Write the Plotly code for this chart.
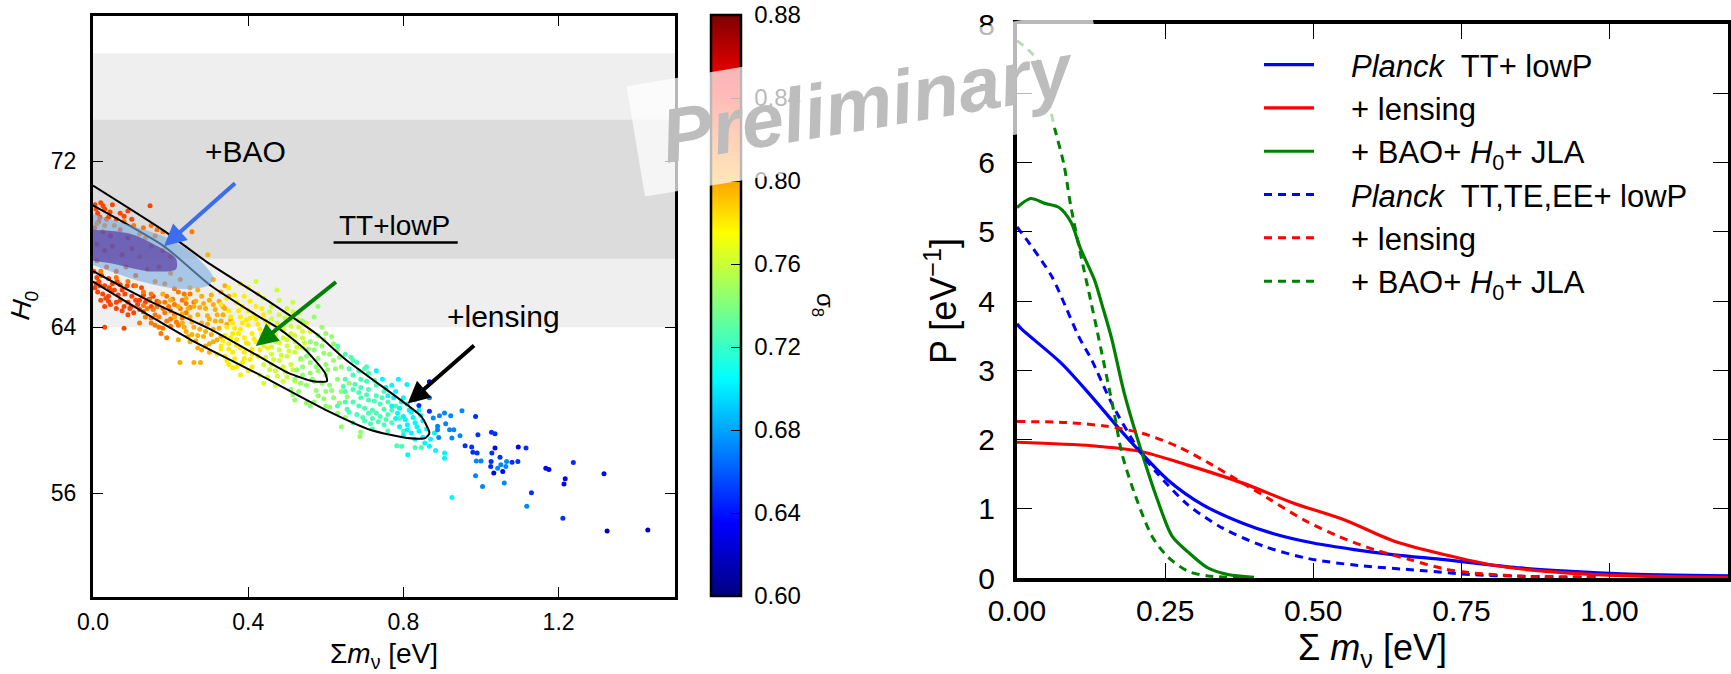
import plotly.graph_objects as go

W, H = 1731, 674
FONT = "Liberation Sans"

# --- left panel: (sum m_nu, H0) samples grouped by sigma_8 colour
s8_083 = [(.005,69.9),(.012,69.5),(.02,70.0),(.03,69.7),(.04,69.3),(.05,69.9),(.015,69.1),(.035,69.2),(.07,69.5),(.09,69.6),
 (.147,69.85),(.005,65.9),(.015,66.2),(.025,65.6),(.02,65.3),(.04,65.5),(.055,65.8),(.07,65.3),(.09,65.2),(.01,66.4),(.03,66.0),
 (.05,66.1),(.075,65.8),(.03,65.0),(.045,65.1),(.06,64.9),(.08,65.0),(.105,64.7),(.12,64.85),(.03,64.0),(.08,63.95),(.1,65.5),
 (.12,65.3),(.09,64.6),(.135,65.2),(.15,65.0),(.008,69.7),(.018,69.3),(.026,69.85),(.044,69.55),(.06,69.2),(.08,69.35),(.1,69.2),
 (.004,68.8),(.025,68.6),(.045,68.4),(.07,68.7),(.09,68.3),(.01,68.0),(.03,67.7),(.05,67.9),(.075,67.5),(.1,67.8),(.01,67.2),
 (.035,66.9),(.06,66.7),(.085,66.9),(.11,66.5),(.012,65.7),(.033,65.4),(.048,65.75),(.065,65.55),(.082,65.6),(.098,65.0),(.115,65.1),
 (.13,65.55),(.145,65.35),(.04,65.25),(.06,65.2),(.075,64.8),(.095,64.9),(.11,65.3),(.13,64.75),(.018,66.0),(.042,65.9),(.062,66.2),
 (.088,66.0),(.105,66.0),(.125,65.9),(.002,66.7),(.008,66.1),(.022,66.5),(.04,66.35),(.07,66.05),(.155,65.5),(.165,65.25)]
s8_081 = [(.01,69.0),(.03,68.9),(.055,68.9),(.08,69.1),(.105,68.9),(.13,68.8),(.15,68.9),(.16,68.4),(.18,68.6),(.12,68.5),
 (.02,66.7),(.06,66.4),(.09,66.2),(.11,66.0),(.13,65.7),(.15,65.6),(.17,65.2),(.19,65.5),(.14,64.9),(.16,64.6),(.18,64.9),
 (.2,64.8),(.12,64.2),(.15,64.2),(.17,64.0),(.2,64.4),(.22,64.1),(.24,64.7),(.175,63.7),(.21,65.1),(.23,65.3),(.19,63.5),
 (.25,65.6),(.22,65.7),(.255,68.6),(.2,68.2),(.135,68.3),(.165,68.7),(.15,67.9),(.18,67.7),(.2,67.4),(.12,67.4),(.14,66.8),(.17,66.9),
 (.2,66.6),(.225,66.3),(.16,66.2),(.185,66.1),(.21,65.85),(.145,65.3),(.165,65.0),(.185,65.2),(.205,65.35),(.225,64.9),(.24,65.15),
 (.155,64.85),(.17,64.5),(.19,64.3),(.21,64.6),(.23,64.45),(.25,64.95),(.135,64.5),(.16,64.1),(.18,63.95),(.2,64.05),(.13,65.05),
 (.15,64.45),(.185,64.7),(.195,65.0),(.215,64.25),(.235,65.6),(.26,65.2)]
s8_079 = [(.18,65.6),(.2,65.3),(.22,65.0),(.24,65.4),(.26,65.0),(.28,65.5),(.3,65.3),(.21,64.5),(.23,64.2),(.25,64.5),(.27,64.6),
 (.29,64.9),(.31,65.1),(.24,63.8),(.26,64.0),(.28,64.2),(.3,64.4),(.32,64.6),(.34,64.9),(.22,63.4),(.25,63.3),(.27,63.6),(.29,63.8),
 (.31,63.9),(.33,64.3),(.224,62.3),(.26,62.3),(.277,62.3),(.28,62.9),(.3,63.2),(.32,63.4),(.35,65.5),(.33,65.7),(.296,67.5),
 (.31,66.3),(.34,66.0),(.27,65.8),(.25,65.9),(.23,64.65),(.245,64.9),(.265,65.25),(.285,65.15),(.305,65.55),(.325,65.25),(.255,64.25),
 (.275,64.95),(.295,64.55),(.315,64.85),(.335,65.0),(.235,64.0),(.255,63.65),(.275,63.9),(.295,64.15),(.315,64.3),(.335,64.6),(.355,64.35),
 (.245,63.55),(.265,63.35),(.285,63.55),(.305,63.65),(.325,63.95),(.345,64.15),(.29,63.1),(.31,63.3),(.33,63.55),(.27,63.0),(.3,62.8)]
s8_077 = [(.33,65.1),(.35,64.8),(.37,65.2),(.39,65.5),(.36,64.2),(.38,64.5),(.4,64.8),(.42,65.0),(.34,63.6),(.36,63.7),(.38,63.9),
 (.4,64.1),(.42,64.4),(.44,64.6),(.33,63.1),(.35,63.2),(.37,63.4),(.39,63.5),(.41,63.7),(.43,63.9),(.45,64.1),(.32,62.7),(.34,62.6),
 (.36,62.8),(.38,63.0),(.4,63.2),(.42,63.3),(.44,63.5),(.46,63.7),(.35,62.2),(.37,62.1),(.39,62.5),(.41,62.7),(.43,62.9),(.45,63.0),
 (.38,61.7),(.41,62.1),(.35,65.9),(.38,66.1),(.4,65.9),(.345,65.4),(.365,65.55),(.385,65.0),(.405,65.25),(.425,65.6),(.355,64.5),
 (.375,64.8),(.395,64.35),(.415,64.6),(.435,64.9),(.345,64.0),(.365,63.95),(.385,64.2),(.405,64.45),(.425,64.15),(.445,64.3),
 (.335,63.35),(.355,63.5),(.375,63.7),(.395,63.25),(.415,63.45),(.435,63.65),(.33,62.95),(.35,62.95),(.37,63.15),(.39,62.8),(.41,62.95),
 (.345,62.4),(.365,62.5),(.385,62.3),(.405,62.45),(.425,62.6),(.36,62.05),(.4,61.9)]
s8_075 = [(.44,65.4),(.46,65.0),(.48,65.3),(.46,64.4),(.48,64.6),(.5,64.9),(.47,63.9),(.49,64.1),(.51,64.4),(.53,64.7),(.47,63.3),
 (.49,63.5),(.51,63.7),(.53,64.0),(.55,64.2),(.46,62.7),(.48,62.9),(.5,63.1),(.52,63.3),(.54,63.5),(.56,63.8),(.44,62.2),(.46,62.2),
 (.48,62.4),(.5,62.6),(.52,62.8),(.54,63.0),(.43,61.7),(.45,61.6),(.47,61.9),(.49,62.1),(.51,62.2),(.44,61.3),(.47,61.2),(.5,61.6),
 (.474,65.8),(.515,65.2),(.42,66.2),(.455,64.75),(.475,64.2),(.495,64.45),(.515,64.75),(.45,63.55),(.47,63.65),(.49,63.85),(.51,64.05),
 (.53,64.35),(.44,63.1),(.46,63.05),(.48,63.25),(.5,63.4),(.52,63.6),(.54,63.8),(.445,62.55),(.465,62.45),(.485,62.65),(.505,62.85),
 (.525,63.05),(.545,63.25),(.455,61.95),(.475,61.65),(.495,61.85),(.515,61.95),(.535,62.45),(.49,61.4),(.52,61.4)]
s8_073 = [(.54,64.3),(.57,64.5),(.59,64.0),(.56,63.3),(.58,63.6),(.6,63.7),(.62,63.2),(.55,62.6),(.57,62.9),(.59,63.1),(.61,62.7),
 (.63,62.9),(.54,62.1),(.56,62.3),(.58,62.5),(.6,62.2),(.62,62.4),(.52,61.5),(.54,61.7),(.56,61.8),(.58,61.9),(.6,61.7),(.64,62.1),
 (.51,61.0),(.53,60.9),(.55,61.2),(.57,61.4),(.59,61.3),(.61,61.2),(.63,61.5),(.52,60.5),(.55,60.35),(.58,60.7),(.6,60.9),(.62,60.6),
 (.64,60.9),(.66,61.3),(.58,65.0),(.56,60.2),(.6,60.2),(.688,58.74),(.69,58.95),(.64,59.2),(.555,62.95),(.575,63.2),(.595,63.4),
 (.615,63.55),(.535,62.5),(.575,62.1),(.595,62.75),(.635,62.55),(.525,61.95),(.565,61.5),(.605,61.95),(.625,62.0),(.515,60.75),
 (.535,61.3),(.575,60.95),(.595,60.55),(.615,60.95),(.635,60.35),(.655,60.65),(.57,60.4),(.61,60.15),(.63,59.85),(.65,59.65)]
s8_071 = [(.63,63.1),(.65,62.7),(.67,62.4),(.66,62.0),(.68,62.3),(.7,62.0),(.65,61.5),(.67,61.7),(.69,61.5),(.71,61.8),(.65,60.9),(.67,61.0),
 (.69,61.1),(.71,61.0),(.73,61.2),(.63,60.2),(.65,60.4),(.67,60.4),(.69,60.6),(.71,60.5),(.73,60.7),(.75,60.9),(.66,59.9),(.68,59.8),
 (.7,60.1),(.72,60.0),(.74,60.3),(.76,60.4),(.67,59.4),(.7,59.5),(.72,59.6),(.74,59.7),(.76,59.8),(.78,60.2),(.72,59.1),(.75,59.3),
 (.77,59.4),(.79,59.6),(.783,58.29),(.83,58.21),(.846,58.21),(.796,58.26),(.76,59.0),(.8,59.0),(.705,62.1),(.665,62.55),(.685,61.9),
 (.675,61.25),(.705,61.4),(.725,61.45),(.645,61.15),(.685,60.85),(.705,60.75),(.725,60.45),(.745,60.6),(.655,60.05),(.685,60.2),
 (.71,59.85),(.73,59.85),(.75,60.05),(.77,60.0),(.695,59.65),(.715,59.35),(.735,59.45),(.755,59.55)]
s8_069 = [(.73,61.9),(.746,61.5),(.77,61.2),(.787,61.5),(.76,60.7),(.78,60.9),(.8,60.6),(.809,61.24),(.77,60.2),(.79,60.1),(.81,60.3),
 (.83,60.5),(.78,59.6),(.8,59.7),(.82,59.9),(.84,60.0),(.81,59.3),(.83,59.4),(.85,59.5),(.82,58.9),(.84,59.0),(.86,59.1),(.8,58.8),
 (.83,58.6),(.85,58.7),(.867,58.26),(.855,58.42),(.88,58.9),(.87,58.6),(.906,57.94),(.906,57.69),(.925,55.8),(.883,58.06),(.811,57.85),
 (.755,61.1),(.775,60.6),(.795,60.4),(.815,60.0),(.785,59.85),(.805,59.55),(.825,59.65),(.845,59.75),(.79,59.2),(.81,59.05),(.835,59.2)]
s8_066 = [(.893,59.74),(.922,59.74),(.906,59.87),(.951,59.97),(.919,59.06),(.93,59.06),(.946,58.77),(.925,58.66),(.909,59.35),(.888,59.23),
 (.888,59.06),(.891,58.69),(.877,59.63),(.867,60.6),(1.004,56.32),(.986,56.84),(.988,57.56),(1.0,57.56),(1.118,55.37),(1.06,56.5),
 (1.066,57.53),(1.064,57.29),(1.051,57.37),(1.043,57.2)]
s8_064 = [(.84,60.23),(.867,59.95),(.986,59.7),(.976,58.23),(.959,58.29),(.979,57.97),(.99,57.94),(.992,58.82),(1.027,58.94),(1.036,58.87),
 (1.028,57.94),(1.026,57.53),(1.025,57.29),(1.049,57.74),(1.08,57.5),(1.095,57.53),(1.116,58.18),(1.13,56.03),(1.211,54.8),(1.238,57.48)]
s8_063 = [(.867,61.37),(1.036,58.18),(1.056,57.05),(1.033,56.97),(1.096,58.23),(1.167,57.2),(1.175,57.15),(1.217,56.7),(1.214,56.44),(1.317,56.94)]
s8_061 = [(1.325,54.18),(1.43,54.23)]
scatter_groups = [(0.826,s8_083),(0.812,s8_081),(0.797,s8_079),(0.78,s8_077),(0.762,s8_075),(0.745,s8_073),
                  (0.725,s8_071),(0.703,s8_069),(0.672,s8_066),(0.648,s8_064),(0.636,s8_063),(0.615,s8_061)]

contour_outer_mnu = [0,.187,.293,.44,.577,.651,.809,.846,.867,.856,.809,.714,.598,.42,.25,.142,.07,0]
contour_outer_h0  = [70.83,68.6,67.15,65.4,63.66,62.45,60.27,59.7,58.9,58.66,58.66,59.06,60.03,61.8,63.42,64.6,65.4,66.2]
contour_inner_mnu = [0,.183,.304,.42,.482,.546,.598,.603,.567,.503,.419,.303,.142,.07,0]
contour_inner_h0  = [69.87,67.9,66.0,64.6,63.9,62.94,61.8,61.4,61.4,61.8,62.69,63.9,65.3,66.0,66.7]
bao_outer_mnu = [0,.116,.193,.26,.31,.296,.218,.124,0]
bao_outer_h0  = [69.45,68.8,68.3,67.5,66.4,66.0,65.85,66.2,67.0]
bao_inner_mnu = [0,.098,.167,.214,.214,.142,.055,0]
bao_inner_h0  = [68.7,68.5,67.9,67.3,66.8,66.7,67.05,67.2]
h0_band_outer = [64.0, 77.2]
h0_band_inner = [67.3, 74.0]

# --- right panel: posteriors
tt_mnu  = [0,.007,.075,.126,.169,.207,.254,.313,.381,.433,.5,.569,.637,.722,.773,.85,.935,1.02,1.2]
tt_p    = [3.67,3.6,3.1,2.62,2.19,1.83,1.42,1.06,.79,.64,.505,.41,.335,.265,.215,.145,.095,.06,.03]
ttl_mnu = [0,.126,.207,.288,.381,.467,.552,.637,.722,.807,.893,.978,1.1,1.2]
ttl_p   = [1.96,1.91,1.83,1.63,1.37,1.08,.84,.53,.335,.18,.095,.05,.02,.01]
ttb_mnu = [0,.023,.047,.071,.091,.107,.131,.144,.16,.181,.211,.237,.262,.288,.322,.356,.4]
ttb_p   = [5.35,5.48,5.41,5.35,5.14,4.76,4.3,3.93,3.45,2.67,1.8,1.13,.6,.38,.145,.05,.01]
te_mnu  = [0,.027,.059,.083,.104,.126,.16,.207,.237,.288,.347,.416,.492,.577,.68,.765,.85,.978]
te_p    = [5.07,4.76,4.35,3.9,3.49,3.15,2.52,1.83,1.51,1.06,.72,.46,.28,.18,.11,.05,.025,.01]
tel_mnu = [0,.083,.152,.211,.271,.33,.381,.424,.484,.543,.603,.663,.722,.773,.858,.978]
tel_p   = [2.26,2.245,2.19,2.09,1.9,1.63,1.37,1.15,.84,.6,.41,.265,.13,.07,.025,.01]
teb_mnu = [0,.035,.063,.079,.091,.107,.124,.135,.164,.177,.198,.228,.254,.288,.322,.381]
teb_p   = [7.76,7.47,6.51,5.98,5.36,4.69,4.02,3.58,2.38,1.8,1.23,.6,.31,.1,.03,.005]

GAP = "\u00a0\u00a0\u00a0\u2009"
posterior_series = [
 ("<i>Planck</i>  TT+ lowP", tt_mnu, tt_p, "#0000ff", "solid"),
 ("+ lensing", ttl_mnu, ttl_p, "#ff0000", "solid"),
 ("+ BAO+ <i>H</i><sub>0</sub>+ JLA", ttb_mnu, ttb_p, "#008000", "solid"),
 ("<i>Planck</i>  TT,TE,EE+ lowP", te_mnu, te_p, "#0000ff", "8px,6px"),
 ("+ lensing", tel_mnu, tel_p, "#ff0000", "8px,6px"),
 ("+ BAO+ <i>H</i><sub>0</sub>+ JLA", teb_mnu, teb_p, "#008000", "8px,6px"),
]

JET = [[0, "#00007f"], [.125, "#0000ff"], [.375, "#00ffff"], [.625, "#ffff00"], [.875, "#ff0000"], [1, "#7f0000"]]

fig = go.Figure()

xs, ys, cs = [], [], []
for s8, pts in scatter_groups:
    for m, h in pts:
        xs.append(m); ys.append(h); cs.append(s8)

fig.add_trace(go.Scatter(x=xs, y=ys, mode="markers", showlegend=False, xaxis="x", yaxis="y",
    marker=dict(size=5, color=cs, colorscale=JET, cmin=0.60, cmax=0.88, line=dict(width=0),
        colorbar=dict(x=711/W, xanchor="left", y=1-596/H, yanchor="bottom", len=581/H, lenmode="fraction",
            thickness=30, thicknessmode="pixels", outlinewidth=2.5, outlinecolor="black",
            tick0=0.60, dtick=0.04, ticks="inside", ticklen=11, tickwidth=1, tickcolor="black",
            tickformat=".2f", tickprefix="\u00a0", xpad=0, ypad=0,
            tickfont=dict(family=FONT, size=24, color="black")))))

for m, h in [(contour_outer_mnu, contour_outer_h0), (contour_inner_mnu, contour_inner_h0)]:
    fig.add_trace(go.Scatter(x=m, y=h, mode="lines", showlegend=False, xaxis="x", yaxis="y",
        line=dict(color="black", width=2, shape="spline", smoothing=0.6)))
for m, h, c in [(bao_outer_mnu, bao_outer_h0, "rgba(125,175,225,0.62)"), (bao_inner_mnu, bao_inner_h0, "rgba(85,55,160,0.68)")]:
    fig.add_trace(go.Scatter(x=m, y=h, mode="lines", fill="toself", fillcolor=c, showlegend=False, xaxis="x", yaxis="y",
        line=dict(width=0, shape="spline", smoothing=0.8)))

for i, (name, m, p, c, d) in enumerate(posterior_series):
    fig.add_trace(go.Scatter(x=m, y=p, mode="lines", name=GAP + name, legendgroup=str(i), xaxis="x2", yaxis="y2",
        line=dict(color=c, width=3.2 if d == "solid" else 3, dash=d, shape="spline", smoothing=0.8)))

common = dict(showline=True, mirror="allticks", linecolor="black", showgrid=False, zeroline=False,
              ticks="inside", tickcolor="black", tickwidth=1)

def text(t, x, y, size, **kw):
    return dict(text=t, x=x, y=y, xref="x", yref="y", showarrow=False,
                font=dict(family=FONT, size=size, color="black"), **kw)

def arrow(x0, y0, x1, y1, c):
    return dict(x=x1, y=y1, ax=x0, ay=y0, xref="x", yref="y", axref="x", ayref="y", text="",
                showarrow=True, arrowhead=2, arrowsize=1.1, arrowwidth=4, arrowcolor=c)

fig.update_layout(
    width=W, height=H, margin=dict(l=0, r=0, t=0, b=0, autoexpand=False), autosize=False,
    paper_bgcolor="white", plot_bgcolor="white",
    font=dict(family=FONT, color="black"),
    xaxis=dict(domain=[93/W, 675/W], range=[0, 1.5], tick0=0, dtick=0.4, tickformat=".1f", ticklen=10,
               linewidth=3, tickfont=dict(size=23), anchor="y", ticklabelstandoff=2,
               title=dict(text="Σ<i>m</i><sub>ν</sub> [eV]", font=dict(size=28), standoff=10), **common),
    yaxis=dict(domain=[1-597/H, 1-16/H], range=[51, 79], tick0=0, dtick=8, ticklen=10,
               linewidth=3, tickfont=dict(size=23), anchor="x", ticklabelstandoff=9, **common),
    xaxis2=dict(domain=[1017/W, 1728/W], range=[0, 1.2], tick0=0, dtick=0.25, tickformat=".2f", ticklen=15,
                linewidth=4, tickfont=dict(size=30), anchor="y2", ticklabelstandoff=3,
                title=dict(text="Σ <i>m</i><sub>ν</sub> [eV]", font=dict(size=36), standoff=10), **common),
    yaxis2=dict(domain=[1-578/H, 1-24/H], range=[0, 8], tick0=0, dtick=1, ticklen=15,
                linewidth=4, tickfont=dict(size=30), anchor="x2", ticklabelstandoff=12,
                title=dict(text="P [eV<sup>−1</sup>]", font=dict(size=36), standoff=12), **common),
    legend=dict(x=1259/W, y=1-38/H, xanchor="left", yanchor="top", bgcolor="rgba(0,0,0,0)", borderwidth=0,
                font=dict(family=FONT, size=31, color="black"), tracegroupgap=8, itemwidth=50, traceorder="normal"),
    shapes=[
        dict(type="rect", xref="x", yref="y", x0=0, x1=1.5, y0=h0_band_outer[0], y1=h0_band_outer[1],
             fillcolor="#efefef", line_width=0, layer="below"),
        dict(type="rect", xref="x", yref="y", x0=0, x1=1.5, y0=h0_band_inner[0], y1=h0_band_inner[1],
             fillcolor="#dcdcdc", line_width=0, layer="below"),
        dict(type="line", xref="x", yref="y", x0=.62, x1=.94, y0=68.08, y1=68.08, line=dict(color="black", width=2.5)),
    ],
    annotations=[
        text("+BAO", .394, 72.47, 30),
        text("TT+lowP", .778, 68.9, 28),
        text("+lensing", 1.057, 64.53, 30),
        arrow(.37, 71.0, .183, 67.9, "#3c6cf0"),
        arrow(.63, 66.24, .4195, 63.1, "#008000"),
        arrow(.986, 63.18, .811, 60.32, "black"),
        dict(text="<i>H</i><sub>0</sub>", x=24/W, y=1-305/H, xref="paper", yref="paper", showarrow=False, textangle=-82,
             xanchor="center", yanchor="middle", font=dict(family=FONT, size=27, color="black")),
        dict(text="σ<sub>8</sub>", x=824/W, y=1-305/H, xref="paper", yref="paper", showarrow=False, textangle=90,
             xanchor="center", yanchor="middle", font=dict(family=FONT, size=24, color="black")),
        dict(text="<b><i>Preliminary</i></b>", x=868/W, y=1-102/H, xref="paper", yref="paper", showarrow=False,
             xanchor="center", yanchor="middle",
             textangle=-9.5, width=468, height=109, align="center", valign="middle",
             bgcolor="rgba(255,255,255,0.72)", font=dict(family=FONT, size=76, color="#bdbdbd")),
    ],
)

fig.write_html("out.html", config=dict(displayModeBar=False), post_script="document.body.style.margin='0';")
